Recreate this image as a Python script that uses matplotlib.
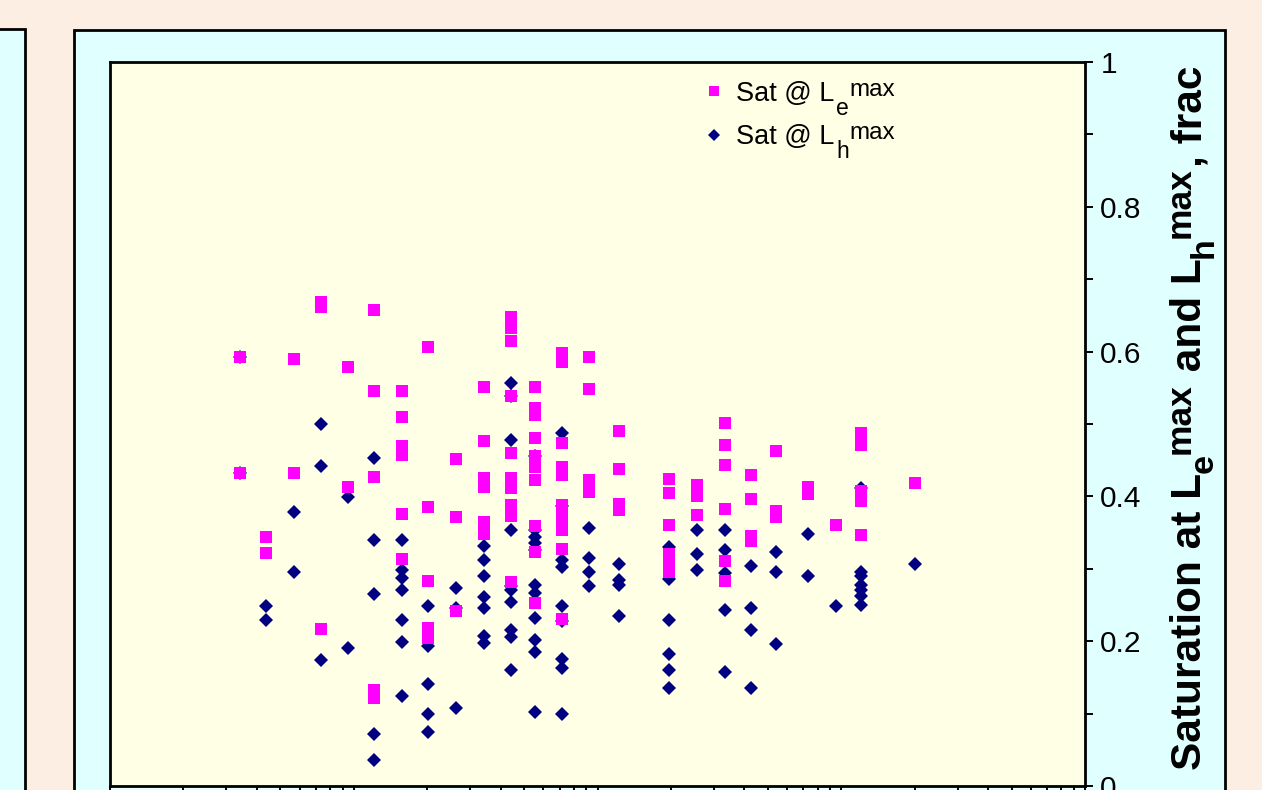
import matplotlib
matplotlib.use("Agg")
import matplotlib.pyplot as plt
from matplotlib.patches import Rectangle
from matplotlib.transforms import IdentityTransform
from matplotlib.font_manager import FontProperties
from matplotlib.ticker import MultipleLocator, FuncFormatter, LogLocator, NullFormatter

plt.rcParams['font.family'] = ['Liberation Sans', 'DejaVu Sans']

# ---- data: x positions (log axis) and saturations ----
x_cols = [3.41, 4.36, 5.68, 7.32, 9.45, 12.1, 15.7, 20.1, 26.2, 34.1, 44.0, 55.2,
          71.2, 92.7, 123, 197, 255, 335, 428, 542, 732, 954, 1208, 2011]

sat_le = [
    [0.593, 0.433],
    [0.344, 0.322],
    [0.590, 0.433],
    [0.669, 0.661, 0.217],
    [0.579, 0.413],
    [0.657, 0.546, 0.427, 0.133, 0.122],
    [0.546, 0.510, 0.470, 0.457, 0.376, 0.314],
    [0.607, 0.386, 0.283, 0.218, 0.205],
    [0.452, 0.372, 0.242],
    [0.551, 0.477, 0.426, 0.413, 0.365, 0.348],
    [0.648, 0.632, 0.615, 0.538, 0.460, 0.426, 0.412, 0.388, 0.373, 0.282],
    [0.551, 0.522, 0.513, 0.480, 0.456, 0.440, 0.423, 0.359, 0.323, 0.253],
    [0.598, 0.585, 0.474, 0.441, 0.430, 0.388, 0.379, 0.364, 0.354, 0.328, 0.231],
    [0.593, 0.549, 0.422, 0.406],
    [0.491, 0.438, 0.390, 0.381],
    [0.424, 0.405, 0.361, 0.321, 0.308, 0.296],
    [0.416, 0.401, 0.375],
    [0.502, 0.471, 0.444, 0.383, 0.311, 0.283],
    [0.430, 0.397, 0.345, 0.339],
    [0.463, 0.380, 0.372],
    [0.413, 0.404],
    [0.361],
    [0.488, 0.471, 0.408, 0.394, 0.347],
    [0.419],
]

sat_lh = [
    [0.593, 0.433],
    [0.249, 0.229],
    [0.379, 0.296],
    [0.500, 0.442, 0.174],
    [0.399, 0.191],
    [0.453, 0.340, 0.265, 0.072, 0.036],
    [0.340, 0.299, 0.287, 0.271, 0.229, 0.199, 0.124],
    [0.249, 0.194, 0.141, 0.100, 0.075],
    [0.274, 0.246, 0.108],
    [0.332, 0.312, 0.290, 0.261, 0.246, 0.207, 0.198],
    [0.556, 0.538, 0.478, 0.354, 0.276, 0.271, 0.254, 0.216, 0.206, 0.160],
    [0.456, 0.354, 0.344, 0.336, 0.326, 0.278, 0.267, 0.232, 0.202, 0.185, 0.102],
    [0.488, 0.387, 0.312, 0.303, 0.249, 0.228, 0.175, 0.163, 0.100],
    [0.357, 0.315, 0.296, 0.276],
    [0.307, 0.285, 0.278, 0.235],
    [0.330, 0.286, 0.229, 0.182, 0.160, 0.135],
    [0.354, 0.321, 0.299],
    [0.354, 0.326, 0.294, 0.243, 0.158],
    [0.304, 0.246, 0.216, 0.135],
    [0.323, 0.296, 0.196],
    [0.348, 0.290],
    [0.249],
    [0.411, 0.296, 0.290, 0.278, 0.271, 0.263, 0.250],
    [0.307],
]

y_ticks = [0, 0.2, 0.4, 0.6, 0.8, 1.0]
legend_base = ['Sat @ L', 'Sat @ L']
legend_sub = ['e', 'h']
legend_sup = 'max'
ylabel_parts = ['Saturation at L', 'e', 'max', ' and L', 'h', 'max', ', frac']

# flatten
xe, ye, xh, yh = [], [], [], []
for xc, vals in zip(x_cols, sat_le):
    xe += [xc] * len(vals); ye += vals
for xc, vals in zip(x_cols, sat_lh):
    xh += [xc] * len(vals); yh += vals

W, H = 1262, 790
fig = plt.figure(figsize=(W / 100, H / 100), dpi=100)
fig.patch.set_facecolor('#FDEEE4')

# panels
fig.patches.append(Rectangle((-20 / W, -0.1), 45 / W, (H - 29) / H + 0.1,
                             transform=fig.transFigure, facecolor='#E0FFFF',
                             edgecolor='black', lw=2.0, zorder=-5))
fig.patches.append(Rectangle((74 / W, -0.1), (1225 - 74) / W, (H - 30) / H + 0.1,
                             transform=fig.transFigure, facecolor='#E0FFFF',
                             edgecolor='black', lw=2.0, zorder=-5))

ax = fig.add_axes([110 / W, (H - 786) / H, (1085 - 110) / W, (786 - 62) / H])
ax.set_zorder(2)
ax.set_facecolor('#FFFFE6')
for s in ax.spines.values():
    s.set_linewidth(2.0)
    s.set_color('black')

h_line, = ax.plot(xh, yh, linestyle='none', marker='D', markersize=7.6, color='#000080',
                  markeredgewidth=0, zorder=3)
e_line, = ax.plot(xe, ye, linestyle='none', marker='s', markersize=8.6, color='#FF00FF',
                  markeredgewidth=0, zorder=4)

ax.set_xscale('log')
ax.set_xlim(1, 10000)
ax.set_ylim(0, 1)
ax.xaxis.set_major_locator(LogLocator(base=10, numticks=10))
ax.xaxis.set_minor_locator(LogLocator(base=10, subs=range(2, 10), numticks=100))
ax.xaxis.set_minor_formatter(NullFormatter())
ax.tick_params(axis='x', which='both', direction='out', length=6, width=1.4,
               labelbottom=False)

ax.yaxis.tick_right()
ax.set_yticks(y_ticks)
ax.yaxis.set_minor_locator(MultipleLocator(0.1))
ax.yaxis.set_major_formatter(FuncFormatter(lambda v, p: f'{v:g}'))
ax.tick_params(axis='y', which='both', direction='out', length=6, width=1.4,
               labelsize=21.5, pad=5)

LEG_FS = 19.5
leg = ax.legend([e_line, h_line], legend_base, loc='upper left',
                bbox_to_anchor=(0.610, 0.974), frameon=False, fontsize=LEG_FS,
                handlelength=0.65, handletextpad=0.5, labelspacing=0.64,
                borderpad=0, borderaxespad=0, markerscale=0.85)

fig.canvas.draw()
renderer = fig.canvas.get_renderer()


def advance(s, size, weight='normal'):
    fp = FontProperties(family=['Liberation Sans'], size=size, weight=weight)
    w1 = renderer.get_text_width_height_descent('X' + s + 'X', fp, ismath=False)[0]
    w0 = renderer.get_text_width_height_descent('XX', fp, ismath=False)[0]
    return w1 - w0


def rich(x, y, pieces, rotation=0, weight='normal'):
    """pieces: (text, fontsize, baseline shift in px). x, y in display pixels."""
    for s, size, dy in pieces:
        if rotation == 0:
            fig.text(x, y + dy, s, transform=IdentityTransform(), fontsize=size,
                     ha='left', va='baseline', fontweight=weight)
            x += advance(s, size, weight)
        else:
            fig.text(x - dy, y, s, transform=IdentityTransform(), fontsize=size,
                     rotation=90, rotation_mode='anchor', ha='left', va='baseline',
                     fontweight=weight)
            y += advance(s, size, weight)


# legend sub/superscripts appended after each legend label
fp_leg = FontProperties(family=['Liberation Sans'], size=LEG_FS)
lp_desc = renderer.get_text_width_height_descent('lp', fp_leg, ismath=False)[2]
for t, sub in zip(leg.get_texts(), legend_sub):
    bb = t.get_window_extent(renderer)
    base = bb.y0 + lp_desc
    x0 = bb.x0 + advance(t.get_text(), LEG_FS)
    rich(x0 + 2, base, [(sub, 16.5, -14), (legend_sup, 17.5, 5)])

# right-hand axis title built from pieces (rotated 90 degrees)
BIG, SUB, SUP = 30.5, 24.5, 25.5
rich(1201, H - 770,
     [(ylabel_parts[0], BIG, 0), (ylabel_parts[1], SUB, -12), (ylabel_parts[2], SUP, 11),
      (ylabel_parts[3], BIG, 0), (ylabel_parts[4], SUB, -12), (ylabel_parts[5], SUP, 11),
      (ylabel_parts[6], BIG, 0)],
     rotation=90, weight='bold')

fig.savefig('out.png', dpi=100, facecolor=fig.get_facecolor())
